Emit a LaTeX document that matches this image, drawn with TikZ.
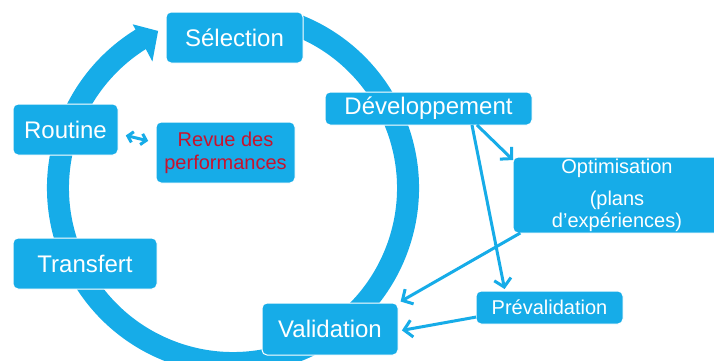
\documentclass[tikz,border=0pt]{standalone}
\usepackage{fontspec}
\setmainfont{Liberation Sans}
\usetikzlibrary{arrows.meta,calc}
\definecolor{cblue}{RGB}{22,172,232}
\definecolor{cred}{RGB}{200,18,45}
\begin{document}
\begin{tikzpicture}[x=1pt,y=1pt,
  box/.style={rectangle, rounded corners=5pt, fill=cblue, draw=white, line width=1pt, text=white, inner sep=0pt, outer sep=0pt},
  big/.style={font=\fontsize{24}{28}\selectfont},
  small/.style={font=\fontsize{20}{22}\selectfont},
  conn/.style={draw=cblue, line width=3pt, -{Straight Barb[length=8pt,width=17pt]}},
  dconn/.style={draw=cblue, line width=3pt, {Straight Barb[length=5pt,width=11pt]}-{Straight Barb[length=5pt,width=11pt]}},
]
\useasboundingbox (0,0) rectangle (714,360);
\clip (0,0) rectangle (714,360);
\fill[white] (0,0) rectangle (714,360);
% ring
\coordinate (ringc) at (233,172);
\draw[cblue, line width=22pt] ($(ringc)+(69:175)$) arc[start angle=69, end angle=-239, radius=175];
\fill[cblue] ($(ringc)+(115.5:174)$) -- ($(ringc)+(121.5:192)$) -- ($(ringc)+(122.5:150)$) -- cycle;
% nodes
\node[box,big,minimum width=137pt,minimum height=51pt] (sel) at (234.5,322.5) {Sélection};
\node[box,big,minimum width=207pt,minimum height=33pt] (dev) at (428.5,251.5) {Développement};
\node[box,small,minimum width=208pt,minimum height=76pt,align=center] (opt) at (617,165) {Optimisation\\[10pt](plans\\d’expériences)};
\node[box,small,minimum width=147pt,minimum height=33pt] (pre) at (549.5,52.5) {Prévalidation};
\node[box,big,minimum width=136pt,minimum height=52pt] (val) at (330,31) {Validation};
\node[box,big,minimum width=105pt,minimum height=51pt] (rou) at (65.5,230.5) {Routine};
\node[box,align=center,text=cred,font=\fontsize{20}{23}\selectfont,minimum width=139pt,minimum height=61pt] (rev) at (225.5,207.5) {Revue des\\performances};
\node[box,big,minimum width=144pt,minimum height=51pt] (tra) at (85,96.5) {Transfert};
% connectors
\draw[conn] ($(dev.south west)!0.734!(dev.south east)$) -- ($(opt.north west)!0.04!(opt.south west)$);
\draw[conn, shorten >=2pt] ($(dev.south west)!0.71!(dev.south east)$) -- ($(pre.north west)!0.197!(pre.north east)$);
\draw[conn, shorten >=3pt] ($(opt.south west)!0.035!(opt.south east)$) -- (val.north east);
\draw[conn, shorten >=4pt] ($(pre.south west)!0.21!(pre.north west)$) -- ($(val.south east)!0.46!(val.north east)$);
\draw[dconn, shorten <=8pt, shorten >=8pt] ($(rou.south east)!0.42!(rou.north east)$) -- ($(rev.south west)!0.66!(rev.north west)$);
\end{tikzpicture}
\end{document}
